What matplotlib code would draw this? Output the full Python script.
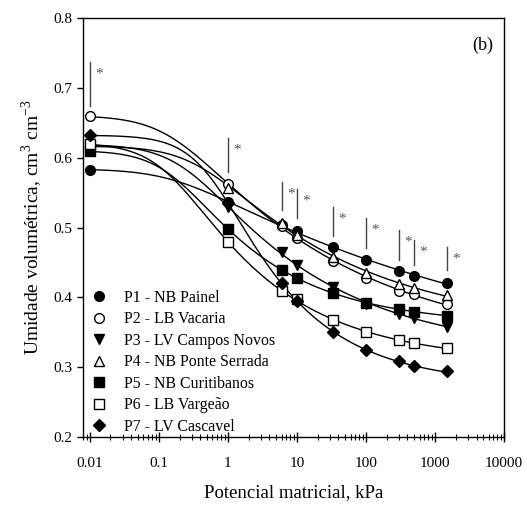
import numpy as np
import matplotlib
matplotlib.use("Agg")
import matplotlib.pyplot as plt
from matplotlib.ticker import FixedLocator, LogLocator, NullFormatter, FixedFormatter

plt.rcParams['font.family'] = ['Liberation Serif', 'DejaVu Serif']
plt.rcParams['mathtext.fontset'] = 'custom'
plt.rcParams['mathtext.rm'] = 'Liberation Serif'

# ---- data ----
potential = [0.01, 1, 6, 10, 33, 100, 300, 500, 1500]  # kPa

labels = ["P1 - NB Painel", "P2 - LB Vacaria", "P3 - LV Campos Novos",
          "P4 - NB Ponte Serrada", "P5 - NB Curitibanos", "P6 - LB Vargeão",
          "P7 - LV Cascavel"]

p1 = [0.583, 0.536, 0.503, 0.495, 0.472, 0.453, 0.438, 0.431, 0.421]
p2 = [0.659, 0.562, 0.502, 0.485, 0.452, 0.428, 0.409, 0.405, 0.390]
p3 = [0.618, 0.529, 0.465, 0.447, 0.415, 0.390, 0.376, 0.371, 0.358]
p4 = [0.617, 0.557, 0.507, 0.490, 0.458, 0.435, 0.419, 0.414, 0.404]
p5 = [0.609, 0.498, 0.439, 0.428, 0.406, 0.392, 0.384, 0.379, 0.374]
p6 = [0.619, 0.479, 0.409, 0.397, 0.367, 0.351, 0.339, 0.335, 0.327]
p7 = [0.632, 0.535, 0.421, 0.395, 0.350, 0.324, 0.309, 0.301, 0.294]

# significance marks (vertical bar + asterisk)
sig_x = [0.01, 1, 6, 10, 33, 100, 300, 500, 1500]
sig_low = [0.674, 0.579, 0.525, 0.513, 0.488, 0.471, 0.454, 0.446, 0.439]
sig_high = [0.737, 0.628, 0.565, 0.555, 0.529, 0.513, 0.496, 0.482, 0.472]

series = [p1, p2, p3, p4, p5, p6, p7]
markers = ['o', 'o', 'v', '^', 's', 's', 'D']
faces = ['black', 'white', 'black', 'white', 'black', 'white', 'black']
msizes = [7, 7, 7, 7, 6.5, 6.5, 6.5]


def vg_fit(h, th):
    h = np.asarray(h, float)
    th = np.asarray(th, float)
    best = None
    for la in np.arange(-2.5, 2.0, 0.02):
        a = 10 ** la
        for n in np.arange(1.02, 4.0, 0.01):
            m = 1 - 1 / n
            S = (1 + (a * h) ** n) ** (-m)
            A = np.column_stack([1 - S, S])
            coef, *_ = np.linalg.lstsq(A, th, rcond=None)
            r = np.sum((A @ coef - th) ** 2)
            if best is None or r < best[0]:
                best = (r, a, n, coef)
    return best[1:]


def vg(h, a, n, coef):
    m = 1 - 1 / n
    S = (1 + (a * h) ** n) ** (-m)
    return coef[0] * (1 - S) + coef[1] * S


fig = plt.figure(figsize=(5.27, 5.07), dpi=100)
ax = fig.add_axes([0.1575, 0.138, 0.7989, 0.8265])

hh = np.logspace(np.log10(potential[0]), np.log10(potential[-1]), 300)
for i, (s, mk, fc, ms) in enumerate(zip(series, markers, faces, msizes)):
    a, n, coef = vg_fit(potential, s)
    ax.plot(hh, vg(hh, a, n, coef), color='black', lw=1.0, zorder=2)
for i, (s, mk, fc, ms, lab) in enumerate(zip(series, markers, faces, msizes, labels)):
    ax.plot(potential, s, linestyle='none', marker=mk, markersize=ms,
            markerfacecolor=fc, markeredgecolor='black', markeredgewidth=1.0,
            label=lab, zorder=3 + i)

for x, lo, hi in zip(sig_x, sig_low, sig_high):
    ax.plot([x, x], [lo, hi], color='#444444', lw=1.0, zorder=2)
    ax.annotate('*', xy=(x, hi), xytext=(4, -4), textcoords='offset points',
                ha='left', va='top', color='#555555', fontsize=11)

ax.set_xscale('log')
ax.set_xlim(0.008, 10000)
ax.set_ylim(0.2, 0.8)
ax.set_yticks([0.2, 0.3, 0.4, 0.5, 0.6, 0.7, 0.8])
ax.set_yticklabels(['0.2', '0.3', '0.4', '0.5', '0.6', '0.7', '0.8'])
ax.xaxis.set_major_locator(FixedLocator([0.01, 0.1, 1, 10, 100, 1000, 10000]))
ax.xaxis.set_major_formatter(FixedFormatter(['0.01', '0.1', '1', '10', '100', '1000', '10000']))
ax.xaxis.set_minor_locator(LogLocator(base=10, subs=np.arange(2, 10), numticks=20))
ax.xaxis.set_minor_formatter(NullFormatter())

ax.tick_params(axis='x', which='major', direction='inout', length=7, width=1,
               labelsize=11, pad=11, top=False)
ax.tick_params(axis='x', which='minor', direction='inout', length=5, width=0.8, top=False)
ax.tick_params(axis='y', which='major', direction='out', length=4, width=1, labelsize=11)
for sp in ax.spines.values():
    sp.set_linewidth(1.0)

ax.set_xlabel('Potencial matricial, kPa', fontsize=13.5, labelpad=10)
ax.set_ylabel('Umidade volumétrica, cm$^{3}$ cm$^{-3}$', fontsize=14, labelpad=6)
ax.text(0.975, 0.955, '(b)', transform=ax.transAxes, ha='right', va='top', fontsize=13)

leg = ax.legend(loc='lower left', frameon=False, fontsize=11.4, handletextpad=1.0,
                labelspacing=0.35, borderaxespad=0.0, handlelength=1.2,
                bbox_to_anchor=(0.0, -0.01))

fig.savefig('out.png', dpi=100)
